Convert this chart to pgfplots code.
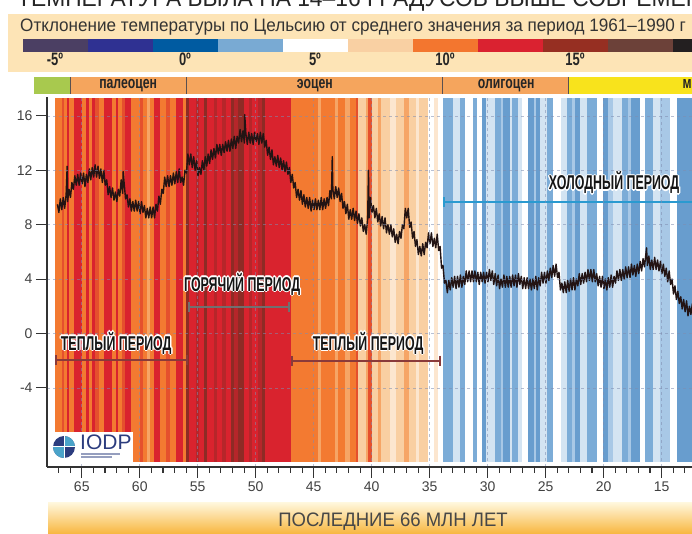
\documentclass[border=0pt]{standalone}
\usepackage{fontspec}
\setmainfont{Liberation Sans}
\newfontfamily\cond{Liberation Sans}[FakeStretch=0.95]
\newfontfamily\condt{Liberation Sans}[FakeStretch=0.95]
\newfontfamily\condb{Liberation Sans Bold}[FakeStretch=0.62]
\newfontfamily\condc{Liberation Sans Bold}[FakeStretch=0.72]
\usepackage{pgfplots}
\pgfplotsset{compat=1.18}
\usetikzlibrary{arrows.meta}

\definecolor{cb0}{HTML}{4B3F63}
\definecolor{cb1}{HTML}{2F3192}
\definecolor{cb2}{HTML}{005BA1}
\definecolor{cb3}{HTML}{79AAD3}
\definecolor{cb4}{HTML}{FFFFFF}
\definecolor{cb5}{HTML}{F9D0A3}
\definecolor{cb6}{HTML}{F3762F}
\definecolor{cb7}{HTML}{DA2230}
\definecolor{cb8}{HTML}{962F22}
\definecolor{cb9}{HTML}{6C4139}
\definecolor{cb10}{HTML}{231F20}
\definecolor{boxpeach}{HTML}{FDE4B6}
\definecolor{epor}{HTML}{F5A55D}
\definecolor{epgr}{HTML}{A8C94E}
\definecolor{epye}{HTML}{F8E31C}
\definecolor{sepc}{HTML}{5A5050}
\definecolor{gridc}{HTML}{7F8DB0}
\definecolor{curvec}{HTML}{231414}
\definecolor{hotc}{HTML}{707070}
\definecolor{warmc}{HTML}{8A3A3A}
\definecolor{coldc}{HTML}{2A9AD0}
\definecolor{labc}{HTML}{151515}
\definecolor{bantop}{HTML}{FFF6DA}
\definecolor{banbot}{HTML}{F8B63E}
\definecolor{iodpn}{HTML}{2B3C7E}
\definecolor{iodpl}{HTML}{4AA3C9}

\newcommand\lbl{\condb\fontsize{20}{20}\selectfont}

\begin{document}
\begin{tikzpicture}
\useasboundingbox (0,0) rectangle (692pt,534pt);
\clip (0,0) rectangle (692pt,534pt);

% cut title at the very top
\node[anchor=base west, inner sep=0, font=\cond\fontsize{24}{24}\selectfont, text=black!85] at (17pt,527pt) {ТЕМПЕРАТУРА БЫЛА НА 14–16 ГРАДУСОВ ВЫШЕ СОВРЕМЕННОЙ.};

% peach legend box
\fill[boxpeach] (8pt,462pt) rectangle (700pt,520pt);
\node[anchor=base west, inner sep=0, font=\condt\fontsize{18}{18}\selectfont, text=black!80] at (20pt,502pt) {Отклонение температуры по Цельсию от среднего значения за период 1961–1990 г};

% colour scale
\begin{axis}[at={(22.5pt,482pt)}, anchor=south west, scale only axis,
  width=715pt, height=13pt, xmin=-6.25, xmax=21.25, ymin=0, ymax=1,
  axis line style={draw=none}, major tick length=0pt, ytick=\empty,
  xtick={-5,0,5,10,15,20}, xticklabels={-5º,0º,5º,10º,15º,20º},
  xticklabel style={font=\condc\fontsize{18}{18}\selectfont, text=black!85, inner sep=1pt},
  clip=false]
\addplot[fill=cb0, draw=none] coordinates {(-6.25,0)(-6.25,1)(-3.75,1)(-3.75,0)} -- cycle;
\addplot[fill=cb1, draw=none] coordinates {(-3.75,0)(-3.75,1)(-1.25,1)(-1.25,0)} -- cycle;
\addplot[fill=cb2, draw=none] coordinates {(-1.25,0)(-1.25,1)(1.25,1)(1.25,0)} -- cycle;
\addplot[fill=cb3, draw=none] coordinates {(1.25,0)(1.25,1)(3.75,1)(3.75,0)} -- cycle;
\addplot[fill=cb4, draw=none] coordinates {(3.75,0)(3.75,1)(6.25,1)(6.25,0)} -- cycle;
\addplot[fill=cb5, draw=none] coordinates {(6.25,0)(6.25,1)(8.75,1)(8.75,0)} -- cycle;
\addplot[fill=cb6, draw=none] coordinates {(8.75,0)(8.75,1)(11.25,1)(11.25,0)} -- cycle;
\addplot[fill=cb7, draw=none] coordinates {(11.25,0)(11.25,1)(13.75,1)(13.75,0)} -- cycle;
\addplot[fill=cb8, draw=none] coordinates {(13.75,0)(13.75,1)(16.25,1)(16.25,0)} -- cycle;
\addplot[fill=cb9, draw=none] coordinates {(16.25,0)(16.25,1)(18.75,1)(18.75,0)} -- cycle;
\addplot[fill=cb10, draw=none] coordinates {(18.75,0)(18.75,1)(21.25,1)(21.25,0)} -- cycle;
\end{axis}

% main chart
\begin{axis}[at={(47pt,67pt)}, anchor=south west, scale only axis,
  width=645pt, height=370pt,
  x dir=reverse, xmin=12.38, xmax=68.0, ymin=-9.82, ymax=17.39,
  axis x line*=bottom, axis y line*=left,
  axis line style={-, line width=1.1pt, black!80},
  xtick={15,20,...,65}, minor xtick={13,14,...,67}, ytick={-4,0,...,16},
  tick align=outside, major tick length=11pt, minor tick length=6pt,
  every tick/.style={black!80, line width=1.1pt},
  /pgf/number format/assume math mode=true,
  ticklabel style={font=\fontsize{14}{14}\selectfont, text=black!75},
  grid=major, major grid style={dash pattern=on 3pt off 3pt, line width=0.7pt, gridc, opacity=0.55},
  axis on top, clip=false,
  colormap={stripes}{rgb255=(255,255,255) rgb255=(212,228,242) rgb255=(168,200,230) rgb255=(124,172,215) rgb255=(104,157,206) rgb255=(252,230,207) rgb255=(249,207,162) rgb255=(246,165,102) rgb255=(243,122,49) rgb255=(229,80,45) rgb255=(217,35,46) rgb255=(182,38,42) rgb255=(142,43,37)},
  colormap access=direct]

% temperature stripes
\addplot[surf, shader=flat corner, mesh/rows=2, point meta=explicit] table[x=x, y=y, meta=c] {
x y c
67.29 -9.375 8
66.69 -9.375 9
66.52 -9.375 8
66.26 -9.375 10
66.09 -9.375 8
65.65 -9.375 10
64.97 -9.375 8
64.62 -9.375 10
64.36 -9.375 8
64.10 -9.375 10
63.84 -9.375 9
63.50 -9.375 8
63.07 -9.375 10
62.38 -9.375 8
62.03 -9.375 10
61.86 -9.375 8
61.52 -9.375 9
61.26 -9.375 10
60.74 -9.375 8
59.97 -9.375 9
59.71 -9.375 8
59.36 -9.375 7
59.10 -9.375 8
58.76 -9.375 10
58.24 -9.375 8
57.72 -9.375 9
57.38 -9.375 8
56.86 -9.375 10
56.26 -9.375 8
56.00 -9.375 12
55.74 -9.375 10
55.14 -9.375 11
54.88 -9.375 10
54.45 -9.375 12
54.19 -9.375 10
53.59 -9.375 11
53.33 -9.375 10
52.90 -9.375 11
52.55 -9.375 10
52.12 -9.375 12
51.86 -9.375 11
51.52 -9.375 12
51.00 -9.375 10
50.57 -9.375 11
50.31 -9.375 10
49.79 -9.375 11
49.45 -9.375 12
49.19 -9.375 10
46.95 -9.375 8
44.62 -9.375 7
44.36 -9.375 8
43.16 -9.375 7
42.90 -9.375 8
42.29 -9.375 7
41.86 -9.375 8
41.34 -9.375 9
41.17 -9.375 6
40.48 -9.375 7
40.31 -9.375 9
39.97 -9.375 6
39.45 -9.375 7
39.19 -9.375 6
38.41 -9.375 5
37.90 -9.375 6
37.21 -9.375 7
36.78 -9.375 6
36.17 -9.375 5
35.91 -9.375 6
35.14 -9.375 0
34.62 -9.375 5
34.28 -9.375 0
33.84 -9.375 3
32.98 -9.375 1
32.38 -9.375 3
31.95 -9.375 0
31.26 -9.375 3
30.91 -9.375 0
30.48 -9.375 4
30.10 -9.375 1
29.79 -9.375 1
29.36 -9.375 3
28.84 -9.375 2
28.67 -9.375 4
28.07 -9.375 1
27.90 -9.375 3
27.40 -9.375 1
27.03 -9.375 0
26.52 -9.375 4
26.00 -9.375 2
25.80 -9.375 4
25.48 -9.375 1
24.88 -9.375 3
24.36 -9.375 0
23.70 -9.375 1
23.16 -9.375 3
22.72 -9.375 2
22.47 -9.375 4
22.03 -9.375 1
21.43 -9.375 3
20.57 -9.375 0
20.05 -9.375 4
19.60 -9.375 2
19.19 -9.375 1
18.41 -9.375 3
17.90 -9.375 2
17.64 -9.375 4
16.86 -9.375 0
16.43 -9.375 3
15.74 -9.375 1
15.14 -9.375 2
14.28 -9.375 0
13.67 -9.375 4
12.38 -9.375 0
67.29 17.32 8
66.69 17.32 9
66.52 17.32 8
66.26 17.32 10
66.09 17.32 8
65.65 17.32 10
64.97 17.32 8
64.62 17.32 10
64.36 17.32 8
64.10 17.32 10
63.84 17.32 9
63.50 17.32 8
63.07 17.32 10
62.38 17.32 8
62.03 17.32 10
61.86 17.32 8
61.52 17.32 9
61.26 17.32 10
60.74 17.32 8
59.97 17.32 9
59.71 17.32 8
59.36 17.32 7
59.10 17.32 8
58.76 17.32 10
58.24 17.32 8
57.72 17.32 9
57.38 17.32 8
56.86 17.32 10
56.26 17.32 8
56.00 17.32 12
55.74 17.32 10
55.14 17.32 11
54.88 17.32 10
54.45 17.32 12
54.19 17.32 10
53.59 17.32 11
53.33 17.32 10
52.90 17.32 11
52.55 17.32 10
52.12 17.32 12
51.86 17.32 11
51.52 17.32 12
51.00 17.32 10
50.57 17.32 11
50.31 17.32 10
49.79 17.32 11
49.45 17.32 12
49.19 17.32 10
46.95 17.32 8
44.62 17.32 7
44.36 17.32 8
43.16 17.32 7
42.90 17.32 8
42.29 17.32 7
41.86 17.32 8
41.34 17.32 9
41.17 17.32 6
40.48 17.32 7
40.31 17.32 9
39.97 17.32 6
39.45 17.32 7
39.19 17.32 6
38.41 17.32 5
37.90 17.32 6
37.21 17.32 7
36.78 17.32 6
36.17 17.32 5
35.91 17.32 6
35.14 17.32 0
34.62 17.32 5
34.28 17.32 0
33.84 17.32 3
32.98 17.32 1
32.38 17.32 3
31.95 17.32 0
31.26 17.32 3
30.91 17.32 0
30.48 17.32 4
30.10 17.32 1
29.79 17.32 1
29.36 17.32 3
28.84 17.32 2
28.67 17.32 4
28.07 17.32 1
27.90 17.32 3
27.40 17.32 1
27.03 17.32 0
26.52 17.32 4
26.00 17.32 2
25.80 17.32 4
25.48 17.32 1
24.88 17.32 3
24.36 17.32 0
23.70 17.32 1
23.16 17.32 3
22.72 17.32 2
22.47 17.32 4
22.03 17.32 1
21.43 17.32 3
20.57 17.32 0
20.05 17.32 4
19.60 17.32 2
19.19 17.32 1
18.41 17.32 3
17.90 17.32 2
17.64 17.32 4
16.86 17.32 0
16.43 17.32 3
15.74 17.32 1
15.14 17.32 2
14.28 17.32 0
13.67 17.32 4
12.38 17.32 0
};

% temperature curve
\addplot[curvec, line width=1.4pt, line join=round] coordinates {
(67.100,9.5)(66.975,8.9)(66.850,9.9)(66.725,9.1)(66.600,10.0)(66.475,9.2)(66.350,10.2)(66.260,12.3)(66.225,9.7)(66.100,10.6)(65.975,10.0)(65.850,11.1)(65.725,10.6)(65.600,11.6)(65.475,10.9)(65.350,11.7)(65.225,10.9)(65.100,11.8)(64.975,11.0)(64.850,11.8)(64.725,10.8)(64.600,11.7)(64.475,11.1)(64.350,12.1)(64.225,11.3)(64.100,12.2)(63.975,11.5)(63.850,12.4)(63.725,11.5)(63.600,12.3)(63.475,11.4)(63.350,12.1)(63.225,11.1)(63.100,12.0)(62.975,10.9)(62.850,11.3)(62.725,10.2)(62.600,10.8)(62.475,10.0)(62.350,10.7)(62.225,9.8)(62.100,10.4)(61.975,9.7)(61.850,10.6)(61.725,10.1)(61.600,11.3)(61.475,10.3)(61.430,11.9)(61.350,11.1)(61.225,9.9)(61.100,10.2)(60.975,9.3)(60.850,9.9)(60.725,9.0)(60.600,9.7)(60.475,9.0)(60.350,9.8)(60.225,9.0)(60.100,9.7)(59.975,8.8)(59.850,9.7)(59.725,8.9)(59.600,9.4)(59.475,8.5)(59.350,9.2)(59.225,8.5)(59.100,9.3)(58.975,8.5)(58.850,9.3)(58.725,8.5)(58.600,9.5)(58.475,9.0)(58.350,10.1)(58.225,9.5)(58.100,10.6)(57.975,10.3)(57.850,11.5)(57.725,10.8)(57.600,11.6)(57.475,10.8)(57.350,11.6)(57.225,10.9)(57.100,11.8)(56.975,11.0)(56.850,11.9)(56.725,11.1)(56.600,12.1)(56.475,11.1)(56.350,11.5)(56.225,10.9)(56.100,12.0)(55.975,11.8)(55.850,13.2)(55.725,12.4)(55.600,13.2)(55.475,12.2)(55.350,13.0)(55.225,12.0)(55.100,12.7)(54.975,11.6)(54.850,12.2)(54.725,11.7)(54.600,12.7)(54.475,12.0)(54.350,13.0)(54.225,12.3)(54.100,13.2)(53.975,12.5)(53.850,13.5)(53.725,12.8)(53.600,13.6)(53.475,12.9)(53.350,13.9)(53.225,13.2)(53.100,13.9)(52.975,13.1)(52.850,13.9)(52.725,13.3)(52.600,14.1)(52.475,13.4)(52.350,14.2)(52.225,13.4)(52.100,14.3)(51.975,13.6)(51.850,14.5)(51.725,13.6)(51.600,14.5)(51.475,14.0)(51.350,15.0)(51.225,14.1)(51.100,14.9)(50.975,14.0)(50.950,16.1)(50.850,14.7)(50.725,13.9)(50.600,14.8)(50.475,14.0)(50.350,14.7)(50.225,13.9)(50.100,14.8)(49.975,14.1)(49.850,14.7)(49.725,13.9)(49.600,14.8)(49.475,14.0)(49.350,14.7)(49.225,13.7)(49.100,14.2)(48.975,13.1)(48.850,13.7)(48.725,12.8)(48.600,13.5)(48.475,12.4)(48.350,13.0)(48.225,12.3)(48.100,13.1)(47.975,12.2)(47.850,12.9)(47.725,12.0)(47.600,12.7)(47.475,11.9)(47.350,12.6)(47.225,11.7)(47.100,12.2)(46.975,11.1)(46.850,11.7)(46.725,10.7)(46.600,11.1)(46.475,10.0)(46.350,10.6)(46.225,9.8)(46.100,10.5)(45.975,9.5)(45.850,10.2)(45.725,9.3)(45.600,10.0)(45.475,9.2)(45.350,10.0)(45.225,9.0)(45.100,9.8)(44.975,9.1)(44.850,9.9)(44.725,9.1)(44.600,9.8)(44.475,9.1)(44.350,10.0)(44.225,9.1)(44.100,9.9)(43.975,9.2)(43.850,10.0)(43.725,9.4)(43.600,10.5)(43.475,9.9)(43.400,13.0)(43.350,10.6)(43.225,9.9)(43.100,10.8)(42.975,10.0)(42.850,10.7)(42.725,9.7)(42.600,10.3)(42.475,9.2)(42.350,9.7)(42.225,8.8)(42.100,9.5)(41.975,8.4)(41.850,9.1)(41.725,8.4)(41.600,9.2)(41.475,8.3)(41.350,9.0)(41.225,8.1)(41.100,8.8)(40.975,7.9)(40.850,8.5)(40.725,7.5)(40.600,8.0)(40.475,7.3)(40.350,8.4)(40.280,12.0)(40.225,8.5)(40.100,10.0)(39.975,8.9)(39.850,9.4)(39.725,8.5)(39.600,9.2)(39.475,8.2)(39.350,8.8)(39.225,7.9)(39.100,8.6)(38.975,7.7)(38.850,8.5)(38.725,7.4)(38.600,8.0)(38.475,7.3)(38.350,8.0)(38.225,7.1)(38.100,7.7)(37.975,6.7)(37.850,7.3)(37.725,6.6)(37.600,7.5)(37.475,7.0)(37.350,8.0)(37.225,7.7)(37.100,9.2)(36.975,8.5)(36.850,9.2)(36.725,7.8)(36.600,8.2)(36.475,7.0)(36.350,7.5)(36.225,6.4)(36.100,6.9)(35.975,5.8)(35.850,6.4)(35.725,5.7)(35.600,6.6)(35.475,5.8)(35.350,6.7)(35.225,6.3)(35.100,7.4)(34.975,6.6)(34.850,7.4)(34.725,6.4)(34.600,7.0)(34.475,6.3)(34.350,7.3)(34.225,6.1)(34.100,6.4)(33.975,4.8)(33.850,5.0)(33.725,3.7)(33.600,3.9)(33.475,3.0)(33.350,3.9)(33.225,3.2)(33.100,4.1)(32.975,3.4)(32.850,4.2)(32.725,3.3)(32.600,4.2)(32.475,3.4)(32.350,4.3)(32.225,3.4)(32.100,4.2)(31.975,3.6)(31.850,4.6)(31.725,3.8)(31.600,4.6)(31.475,3.8)(31.350,4.6)(31.225,3.8)(31.100,4.6)(30.975,3.8)(30.850,4.5)(30.725,3.6)(30.600,4.5)(30.475,3.8)(30.350,4.5)(30.225,3.7)(30.100,4.5)(29.975,3.8)(29.850,4.7)(29.725,3.9)(29.600,4.6)(29.475,3.6)(29.350,4.4)(29.225,3.5)(29.100,4.3)(28.975,3.3)(28.850,4.0)(28.725,3.4)(28.600,4.3)(28.475,3.4)(28.350,4.2)(28.225,3.4)(28.100,4.2)(27.975,3.4)(27.850,4.3)(27.725,3.5)(27.600,4.3)(27.475,3.4)(27.350,4.4)(27.225,3.6)(27.100,4.2)(26.975,3.3)(26.850,4.1)(26.725,3.3)(26.600,4.1)(26.475,3.3)(26.350,4.0)(26.225,3.2)(26.100,4.0)(25.975,3.3)(25.850,4.2)(25.725,3.2)(25.600,4.1)(25.475,3.5)(25.350,4.5)(25.225,3.7)(25.100,4.5)(24.975,3.7)(24.850,4.6)(24.725,3.9)(24.600,4.8)(24.475,4.1)(24.350,5.0)(24.225,4.2)(24.100,5.1)(23.975,4.1)(23.850,4.5)(23.725,3.2)(23.600,3.7)(23.475,3.0)(23.350,3.8)(23.225,3.0)(23.100,3.9)(22.975,3.1)(22.850,4.0)(22.725,3.2)(22.600,4.1)(22.475,3.2)(22.350,4.0)(22.225,3.5)(22.100,4.4)(21.975,3.6)(21.850,4.4)(21.725,3.7)(21.600,4.5)(21.475,3.8)(21.350,4.7)(21.225,3.9)(21.100,4.7)(20.975,3.8)(20.850,4.7)(20.725,3.8)(20.600,4.4)(20.475,3.5)(20.350,4.2)(20.225,3.4)(20.100,4.2)(19.975,3.3)(19.850,4.0)(19.725,3.2)(19.600,4.1)(19.475,3.4)(19.350,4.3)(19.225,3.4)(19.100,4.2)(18.975,3.7)(18.850,4.6)(18.725,3.9)(18.600,4.7)(18.475,3.9)(18.350,4.7)(18.225,4.0)(18.100,4.9)(17.975,4.1)(17.850,4.9)(17.725,4.1)(17.600,5.1)(17.475,4.3)(17.350,5.0)(17.225,4.2)(17.100,5.1)(16.975,4.4)(16.850,5.3)(16.725,4.6)(16.600,5.5)(16.475,4.9)(16.350,5.9)(16.300,6.3)(16.225,5.0)(16.100,5.7)(15.975,4.7)(15.850,5.4)(15.725,4.7)(15.600,5.6)(15.475,4.7)(15.350,5.4)(15.225,4.6)(15.100,5.3)(14.975,4.4)(14.850,5.1)(14.725,4.2)(14.600,4.8)(14.475,3.8)(14.350,4.6)(14.225,3.6)(14.100,4.0)(13.975,2.9)(13.850,3.5)(13.725,2.5)(13.600,3.1)(13.475,2.2)(13.350,2.7)(13.225,1.8)(13.100,2.5)(12.975,1.6)(12.850,2.4)(12.725,1.3)(12.600,2.0)(12.475,1.4)(12.350,2.2)
};

% period brackets
\addplot[hotc, line width=2pt, {Bar[width=10pt]-Bar[width=10pt]}] coordinates {(55.83,1.95)(47.03,1.95)};
\addplot[warmc, line width=2pt, {Bar[width=10pt]-Bar[width=10pt]}] coordinates {(67.29,-1.95)(55.83,-1.95)};
\addplot[warmc, line width=2pt, {Bar[width=10pt]-Bar[width=10pt]}] coordinates {(46.95,-2.0)(34.02,-2.0)};
\addplot[coldc, line width=2pt, {Bar[width=10pt]-}] coordinates {(33.84,9.67)(11.0,9.67)};

% geological epochs bar
\addplot[fill=epgr, draw=none] coordinates {(69.1,17.61)(69.1,18.86)(66,18.86)(66,17.61)} -- cycle;
\addplot[fill=epor, draw=none] coordinates {(66,17.61)(66,18.86)(56,18.86)(56,17.61)} -- cycle;
\addplot[fill=epor, draw=none] coordinates {(56,17.61)(56,18.86)(33.9,18.86)(33.9,17.61)} -- cycle;
\addplot[fill=epor, draw=none] coordinates {(33.9,17.61)(33.9,18.86)(23,18.86)(23,17.61)} -- cycle;
\addplot[fill=epye, draw=none] coordinates {(23,17.61)(23,18.86)(10,18.86)(10,17.61)} -- cycle;
\addplot[sepc, line width=1.3pt] coordinates {(66,17.61)(66,18.86)};
\addplot[sepc, line width=1.3pt] coordinates {(56,17.61)(56,18.86)};
\addplot[sepc, line width=1.3pt] coordinates {(33.9,17.61)(33.9,18.86)};
\addplot[sepc, line width=1.3pt] coordinates {(23,17.61)(23,18.86)};
\node[font=\condc\fontsize{17}{17}\selectfont, text=black!85] at (axis cs:61.0,18.23) {палеоцен};
\node[font=\condc\fontsize{17}{17}\selectfont, text=black!85] at (axis cs:44.9,18.23) {эоцен};
\node[font=\condc\fontsize{17}{17}\selectfont, text=black!85] at (axis cs:28.4,18.23) {олигоцен};
\node[font=\condc\fontsize{17}{17}\selectfont, text=black!85, anchor=west] at (axis cs:13.5,18.23) {миоцен};

\coordinate (hot) at (axis cs:51.17,3.64);
\coordinate (warmL) at (axis cs:62.03,-0.70);
\coordinate (warmR) at (axis cs:40.31,-0.70);
\coordinate (cold) at (axis cs:19.1,11.07);
\end{axis}

% outlined period labels
\foreach \a in {0,45,...,315} {
  \node[font=\lbl, text=white] at ([shift={(\a:1.3pt)}]hot) {ГОРЯЧИЙ ПЕРИОД};
  \node[font=\lbl, text=white] at ([shift={(\a:1.3pt)}]warmL) {ТЕПЛЫЙ ПЕРИОД};
  \node[font=\lbl, text=white] at ([shift={(\a:1.3pt)}]warmR) {ТЕПЛЫЙ ПЕРИОД};
  \node[font=\lbl, text=white] at ([shift={(\a:1.3pt)}]cold) {ХОЛОДНЫЙ ПЕРИОД};
}
\node[font=\lbl, text=labc] at (hot) {ГОРЯЧИЙ ПЕРИОД};
\node[font=\lbl, text=labc] at (warmL) {ТЕПЛЫЙ ПЕРИОД};
\node[font=\lbl, text=labc] at (warmR) {ТЕПЛЫЙ ПЕРИОД};
\node[font=\lbl, text=labc] at (cold) {ХОЛОДНЫЙ ПЕРИОД};

% IODP logo
\fill[white] (50pt,72pt) rectangle (133pt,102pt);
\fill[iodpn] (64pt,87pt) circle (11pt);
\fill[iodpl] (64pt,87pt) -- (75pt,87pt) arc (0:90:11pt) -- cycle;
\fill[iodpl] (64pt,87pt) -- (53pt,87pt) arc (180:270:11pt) -- cycle;
\draw[white, line width=1pt] (64pt,74pt) -- (64pt,100pt) (51pt,87pt) -- (77pt,87pt);
\node[anchor=west, inner sep=0, font=\fontsize{21}{21}\selectfont, text=iodpn] at (80pt,92pt) {IODP};
\fill[iodpn!50] (81pt,79pt) rectangle (120pt,80.5pt);
\fill[iodpn!50] (81pt,76pt) rectangle (112pt,77.5pt);

% bottom banner
\shade[top color=bantop, bottom color=banbot] (48pt,0pt) rectangle (700pt,31pt);
\node[font=\cond\fontsize{19.5}{19.5}\selectfont, text=black!72] at (393pt,12pt) {ПОСЛЕДНИЕ 66 МЛН ЛЕТ};
\end{tikzpicture}
\end{document}
